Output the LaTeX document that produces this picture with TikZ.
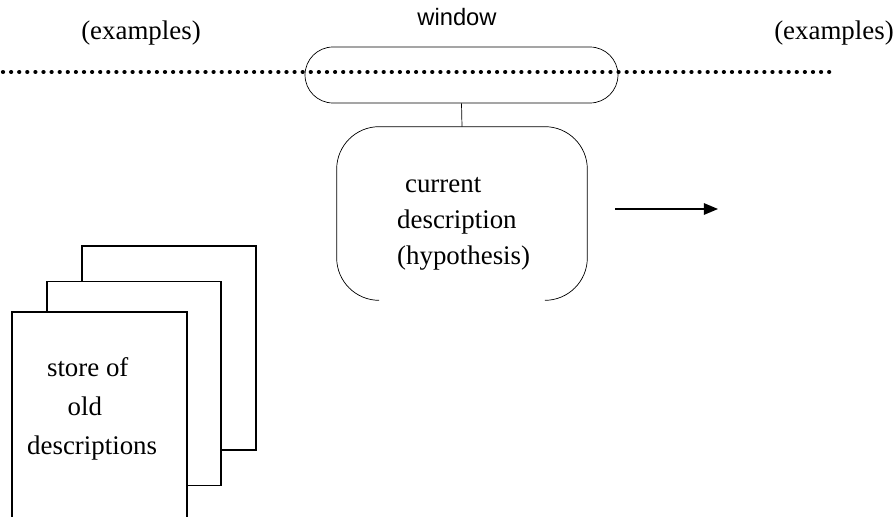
\documentclass[tikz,border=0pt]{standalone}
\usepackage{fontspec}
\setmainfont{Liberation Serif}
\setsansfont{Liberation Sans}
\usepackage{tikz}
\usetikzlibrary{arrows.meta,positioning}
\tikzstyle{page}=[rectangle, draw, line width=1.1pt, fill=white, minimum width=3.48cm, minimum height=4.08cm, inner sep=0]
\tikzstyle{capsule}=[rectangle, draw, thin, rounded corners=0.56cm, minimum width=6.26cm, minimum height=1.12cm]
\tikzstyle{dotline}=[line width=2.4pt, line cap=round, dash pattern=on 0.01pt off 4.6pt]

\begin{document}
\begin{tikzpicture}[x=0.02cm, y=-0.02cm, font=\fontsize{15.3}{20.5}\selectfont]
			\clip (0,0) rectangle (893,517);

			% the stream of examples
			\node (exl) at (141,33) {(examples)};
			\node (exr) at (834,33) {(examples)};
			\draw[dotline] (3,72) -- (835,72);

			\node[capsule] (window) at (461.5,75) {};
			\node[font=\sffamily\fontsize{13.5}{16}\selectfont] (winlbl) at (457,17) {window};

			% current description, open at the bottom
			\node[minimum width=5cm, minimum height=3.46cm] (curdesc) at (462,213.5) {};
			\draw[thin,rounded corners=0.85cm]
				([xshift=0.85cm] curdesc.south west) -- (curdesc.south west)
				-- (curdesc.north west) -- (curdesc.north east)
				-- (curdesc.south east) -- ([xshift=-0.85cm] curdesc.south east);
			\node[align=left,anchor=west] (curtext) at (391,224) {\hspace{4.5pt}current\\description\\(hypothesis)};
			\draw (window.south) -- (curdesc.north);

			\coordinate (arrstart) at (615,209);
			\coordinate (arrend) at (718,209);
			\draw[line width=0.85pt,-{Triangle[length=8pt,width=6.5pt]}] (arrstart) -- (arrend);

			% store of old descriptions
			\node[page] (page3) at (169,348) {};
			\node[page] (page2) at (134,383.5) {};
			\node[page,minimum width=3.5cm,minimum height=5cm] (page1) at (99.5,437) {};
			\node[align=left,anchor=west,font=\fontsize{15.3}{22}\selectfont] (pagetext) at (21,409) {\hspace{11.3pt}store of\\\hspace{23pt}old\\descriptions};
		\end{tikzpicture}
\end{document}
